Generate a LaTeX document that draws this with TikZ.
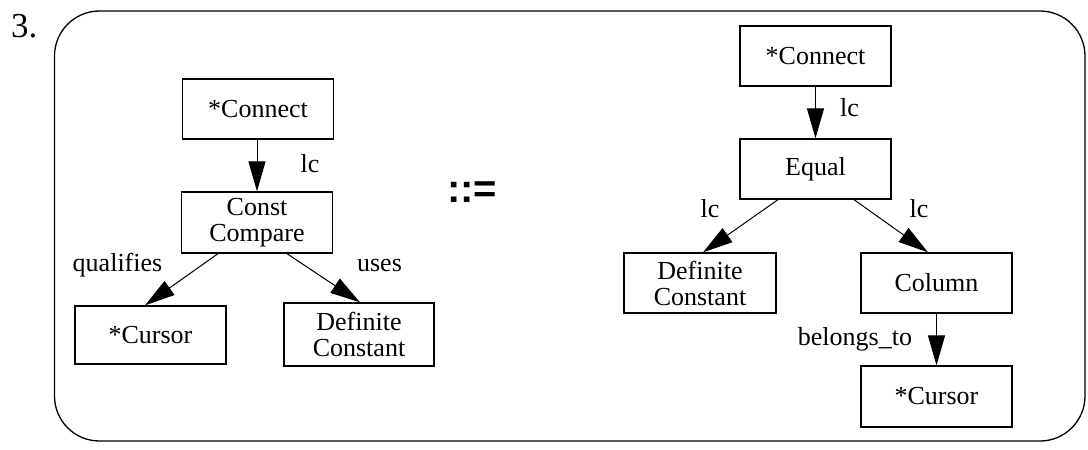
\documentclass[tikz,border=0pt]{standalone}
\usepackage{fontspec}
\setmainfont{Liberation Serif}
\setsansfont{Liberation Sans}
\usetikzlibrary{arrows.meta,calc}
\begin{document}
\begin{tikzpicture}[x=1pt,y=-1pt,
  box/.style={draw,line width=1.3pt,inner sep=0pt,align=center,
    minimum width=151pt,minimum height=60pt,
    font=\fontsize{26}{26}\selectfont},
  lbl/.style={inner sep=0pt,anchor=base,font=\fontsize{26}{26}\selectfont},
  link/.style={line width=1pt,-{Triangle[length=30pt,width=17pt]}}]
\useasboundingbox (0,0) rectangle (1088,450);
% outer frame
\draw[line width=1.3pt,rounded corners=45pt] (54.5,11) rectangle (1085,441);
\node[anchor=base west,inner sep=0pt,font=\fontsize{35}{35}\selectfont] (num) at (11,37) {3.};
% left-hand side
\node[box] (lconn) at (258,109) {*Connect};
\node[box,minimum height=61pt] (lcc) at (257,222.5) {Const\\Compare};
\node[box,minimum height=58pt] (lcur) at (150.5,335) {*Cursor};
\node[box,minimum height=63pt,minimum width=150pt] (ldef) at (359,334.5) {Definite\\Constant};
\draw[link] (lconn.south -| lcc.north) -- (lcc.north);
\draw[link] ([xshift=-39pt]lcc.south) -- ([xshift=-5.5pt]lcur.north);
\draw[link] ([xshift=30pt]lcc.south) -- ([xshift=1pt]ldef.north);
\node[lbl] (llc) at (310,172) {lc};
\node[lbl] (lqual) at (117.5,271) {qualifies};
\node[lbl] (luses) at (379.5,271) {uses};
% production symbol
\node[inner sep=0pt,font=\sffamily\bfseries\fontsize{40}{40}\selectfont] (prod) at (472,192) {::=};
% right-hand side
\node[box] (rconn) at (815.5,56) {*Connect};
\node[box] (req) at (815.5,169) {Equal};
\node[box,minimum width=152pt] (rdef) at (700,283) {Definite\\Constant};
\node[box] (rcol) at (936.5,283) {Column};
\node[box,minimum height=61pt] (rcur) at (936.5,396.5) {*Cursor};
\draw[link] (rconn.south) -- (req.north);
\draw[link] ([xshift=-37.5pt]req.south) -- ([xshift=3pt]rdef.north);
\draw[link] ([xshift=38.5pt]req.south) -- ([xshift=-8.5pt]rcol.north);
\draw[link] (rcol.south) -- (rcur.north);
\node[lbl] (rlc) at (849.5,116) {lc};
\node[lbl] (rlcl) at (710,217) {lc};
\node[lbl] (rlcr) at (919,217) {lc};
\node[lbl] (rbel) at (855,345) {belongs\_to};
\end{tikzpicture}
\end{document}
